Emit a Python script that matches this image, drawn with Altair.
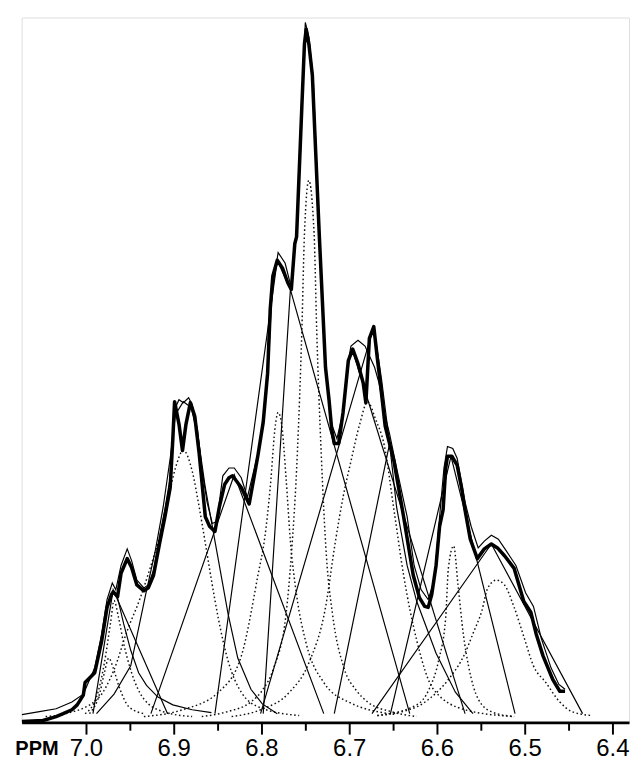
import altair as alt
import pandas as pd

# ---- experimental spectrum (heavy line) ----
heavy_ppm = [7.073, 7.049, 7.034, 7.026, 7.016, 7.010, 7.003, 7.001, 6.990, 6.982, 6.976, 6.971, 6.969,
             6.964, 6.960, 6.953, 6.948, 6.942, 6.934, 6.929, 6.923, 6.916, 6.910, 6.904, 6.901, 6.899,
             6.894, 6.890, 6.886, 6.881, 6.876, 6.871, 6.868, 6.864, 6.859, 6.853, 6.848, 6.842, 6.837,
             6.833, 6.823, 6.814, 6.804, 6.798, 6.793, 6.790, 6.787, 6.782, 6.776, 6.770, 6.766, 6.762,
             6.760, 6.754, 6.751, 6.749, 6.746, 6.742, 6.738, 6.734, 6.727, 6.723, 6.720, 6.717, 6.712,
             6.707, 6.701, 6.696, 6.690, 6.684, 6.681, 6.677, 6.672, 6.668, 6.664, 6.659, 6.654, 6.649,
             6.638, 6.627, 6.620, 6.614, 6.610, 6.606, 6.601, 6.597, 6.593, 6.590, 6.588, 6.583, 6.577,
             6.572, 6.568, 6.562, 6.554, 6.546, 6.538, 6.531, 6.523, 6.512, 6.501, 6.493, 6.487, 6.479,
             6.468, 6.460, 6.454]
heavy_int = [1, 2, 6, 9, 13, 18, 28, 41, 51, 84, 118, 131, 134,
             129, 153, 168, 159, 141, 135, 138, 151, 184, 211, 241, 291, 329,
             306, 279, 306, 328, 314, 276, 248, 211, 201, 196, 221, 244, 251,
             253, 241, 224, 274, 308, 358, 424, 458, 474, 466, 451, 444, 491,
             498, 631, 696, 711, 696, 664, 581, 498, 364, 331, 301, 286, 286,
             318, 371, 383, 368, 348, 328, 394, 406, 374, 344, 304, 286, 268,
             211, 151, 128, 119, 118, 131, 161, 201, 218, 261, 273, 273, 264,
             241, 218, 188, 168, 178, 183, 179, 171, 158, 124, 113, 91, 68,
             44, 32, 32]

# ---- fitted sum (thin line) ----
fit_ppm = [7.073, 7.053, 7.034, 7.016, 7.003, 6.990, 6.982, 6.976, 6.970, 6.966, 6.960, 6.953, 6.948,
           6.942, 6.934, 6.929, 6.923, 6.916, 6.910, 6.904, 6.899, 6.894, 6.889, 6.883, 6.879, 6.873,
           6.868, 6.862, 6.856, 6.851, 6.844, 6.837, 6.831, 6.823, 6.816, 6.804, 6.798, 6.792, 6.788,
           6.781, 6.773, 6.766, 6.760, 6.754, 6.750, 6.746, 6.741, 6.734, 6.727, 6.720, 6.714, 6.707,
           6.701, 6.698, 6.690, 6.682, 6.677, 6.671, 6.666, 6.660, 6.654, 6.646, 6.634, 6.626, 6.618,
           6.610, 6.603, 6.597, 6.592, 6.588, 6.582, 6.577, 6.568, 6.561, 6.553, 6.546, 6.538, 6.530,
           6.521, 6.510, 6.499, 6.490, 6.481, 6.470, 6.461, 6.454]
fit_int = [8, 11, 14, 21, 29, 56, 91, 126, 143, 136, 161, 178, 166,
           146, 138, 141, 156, 191, 219, 251, 321, 331, 328, 333, 326, 301,
           261, 226, 204, 206, 253, 261, 261, 251, 231, 276, 311, 371, 441,
           482, 471, 446, 506, 641, 718, 703, 661, 501, 366, 306, 291, 318,
           371, 386, 392, 386, 376, 364, 348, 318, 296, 261, 211, 161, 136,
           126, 146, 211, 261, 283, 281, 271, 226, 201, 179, 186, 192, 188,
           176, 161, 133, 119, 86, 56, 39, 34]

# ---- dotted components ----
dotted = {
    "d1": ([7.046, 7.023, 6.987, 6.968, 6.953, 6.938, 6.927, 6.916, 6.907, 6.898, 6.889, 6.879, 6.871,
            6.864, 6.857, 6.849, 6.838, 6.823, 6.801, 6.757],
           [6, 9, 24, 54, 94, 128, 158, 191, 226, 261, 279, 258, 221, 184, 146, 106, 63, 31, 15, 7]),
    "d2": ([7.001, 6.988, 6.979, 6.972, 6.968, 6.963, 6.957, 6.948, 6.934, 6.912, 6.879],
           [9, 26, 61, 102, 125, 108, 81, 51, 24, 11, 6]),
    "d2b": ([6.996, 6.984, 6.979, 6.974, 6.969, 6.962, 6.951, 6.934],
            [9, 31, 51, 66, 56, 36, 16, 9]),
    "d3": ([6.934, 6.890, 6.849, 6.823, 6.804, 6.796, 6.790, 6.784, 6.781, 6.777, 6.772, 6.767, 6.760,
            6.749, 6.729, 6.701, 6.646],
           [6, 13, 31, 68, 151, 191, 241, 306, 318, 306, 251, 186, 131, 81, 41, 21, 8]),
    "dmain": ([6.868, 6.839, 6.812, 6.799, 6.786, 6.772, 6.766, 6.759, 6.754, 6.751, 6.746, 6.740, 6.737,
               6.732, 6.726, 6.719, 6.706, 6.692, 6.679, 6.652, 6.623],
              [6, 11, 21, 33, 56, 111, 171, 278, 401, 501, 556, 501, 401, 278, 171, 111, 56, 33, 21, 11, 6]),
    "d4": ([6.834, 6.801, 6.768, 6.746, 6.727, 6.716, 6.707, 6.698, 6.688, 6.679, 6.670, 6.660, 6.649,
            6.638, 6.623, 6.604, 6.568, 6.512],
           [6, 13, 31, 61, 118, 184, 231, 268, 306, 329, 311, 284, 218, 151, 84, 34, 13, 6]),
    "d5": ([6.668, 6.623, 6.609, 6.598, 6.590, 6.587, 6.581, 6.576, 6.570, 6.564, 6.553, 6.538, 6.512],
           [7, 18, 34, 64, 108, 158, 181, 141, 91, 58, 24, 11, 6]),
    "d6": ([6.668, 6.623, 6.609, 6.587, 6.568, 6.559, 6.549, 6.542, 6.532, 6.523, 6.512, 6.501, 6.490,
            6.476, 6.460, 6.446, 6.423],
           [7, 16, 24, 44, 71, 91, 114, 138, 146, 141, 118, 88, 58, 41, 21, 11, 7]),
}

# ---- solid components ----
solid = {
    "s1": ([6.992, 6.969, 6.907], [9, 136, 9]),
    "s2": ([6.969, 6.964, 6.957, 6.949, 6.940, 6.931, 6.918, 6.901, 6.879, 6.857],
           [134, 128, 101, 74, 51, 38, 26, 18, 13, 10]),
    "s3": ([6.988, 6.968, 6.949, 6.932, 6.921, 6.912, 6.904, 6.898, 6.889, 6.880, 6.872, 6.864, 6.857,
            6.850, 6.838, 6.827, 6.812, 6.799, 6.782],
           [9, 29, 58, 131, 176, 221, 271, 316, 329, 323, 291, 241, 206, 171, 111, 66, 34, 19, 9]),
    "s4": ([6.926, 6.831, 6.729], [9, 254, 9]),
    "s5": ([6.853, 6.782, 6.767], [9, 474, 444]),
    "s6": ([6.798, 6.767, 6.631], [9, 444, 9]),
    "s7": ([6.801, 6.672, 6.663, 6.654, 6.646, 6.634, 6.623, 6.601, 6.579, 6.559],
           [9, 406, 351, 286, 221, 161, 124, 71, 31, 9]),
    "s8": ([6.717, 6.654], [9, 286]),
    "s9": ([6.696, 6.568], [381, 9]),
    "s10": ([6.653, 6.584, 6.511], [9, 273, 9]),
    "s11": ([6.674, 6.538, 6.434], [9, 183, 9]),
}

tick_values = [7.0, 6.95, 6.9, 6.85, 6.8, 6.75, 6.7, 6.65, 6.6, 6.55, 6.5, 6.45, 6.4]


def frame(groups):
    rows = []
    for name, (xs, ys) in groups.items():
        for i, (a, b) in enumerate(zip(xs, ys)):
            rows.append({"comp": name, "idx": i, "ppm": a, "val": b})
    return pd.DataFrame(rows)


heavy_df = frame({"heavy": (heavy_ppm, heavy_int)})
fit_df = frame({"fit": (fit_ppm, fit_int)})
dotted_df = frame(dotted)
solid_df = frame(solid)

x_enc = alt.X(
    "ppm:Q",
    scale=alt.Scale(domain=[6.3811, 7.0733], reverse=True, nice=False, zero=False),
    axis=alt.Axis(
        values=tick_values,
        labelExpr="round(datum.value*100) % 10 == 0 ? format(datum.value, '.1f') : ''",
        tickSize={"condition": {"test": "round(datum.value*100) % 10 != 0", "value": 8}, "value": 12},
        tickWidth=2,
        tickColor="black",
        domainColor="black",
        domainWidth=3,
        grid=False,
        labelFont="Liberation Sans",
        labelFontSize=24.5,
        labelColor="black",
        labelPadding=3,
        labelOverlap=False,
        labelFlush=False,
        title="PPM",
        titleFont="Liberation Sans",
        titleFontSize=20.5,
        titleFontWeight="bold",
        titleColor="black",
        titleAnchor="start",
        titleAlign="left",
        titleBaseline="top",
        titleAngle=0,
        titleX=-7,
        titleY=16.5,
    ),
)
y_enc = alt.Y("val:Q", scale=alt.Scale(domain=[0, 723], nice=False, zero=True), axis=None)

dotted_layer = alt.Chart(dotted_df).mark_line(
    color="#111111", strokeWidth=1.5, strokeDash=[1.6, 2.6], interpolate="monotone"
).encode(x=x_enc, y=y_enc, detail="comp:N", order="idx:Q")

solid_layer = alt.Chart(solid_df).mark_line(
    color="#000000", strokeWidth=1.2, interpolate="linear"
).encode(x=x_enc, y=y_enc, detail="comp:N", order="idx:Q")

fit_layer = alt.Chart(fit_df).mark_line(
    color="black", strokeWidth=1.2
).encode(x=x_enc, y=y_enc, order="idx:Q")

heavy_layer = alt.Chart(heavy_df).mark_line(
    color="black", strokeWidth=3.6, strokeJoin="round"
).encode(x=x_enc, y=y_enc, order="idx:Q")

chart = alt.layer(dotted_layer, solid_layer, fit_layer, heavy_layer).properties(
    width=623,
    height=723,
    padding={"left": 7, "top": 0, "right": 0, "bottom": 0},
).configure_view(stroke=None).configure(background="white")

chart.save("out.html", embed_options={"renderer": "svg", "actions": False})
